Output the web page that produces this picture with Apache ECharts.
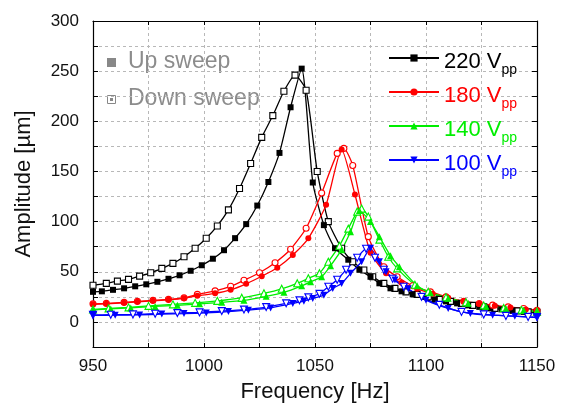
<!doctype html>
<html lang="en">
<head>
    <meta charset="UTF-8">
    <title>Amplitude vs Frequency</title>
    <script src="https://cdn.jsdelivr.net/npm/echarts@6/dist/echarts.min.js"></script>
    <style>
        html, body { margin: 0; padding: 0; background: #fff; }
        #chart { width: 570px; height: 408px; }
    </style>
</head>
<body>
<div id="chart"></div>
<script>
    // 220 Vpp
    var fBlkUp = [950, 954, 959, 964, 969, 974, 979, 984, 989, 994, 999, 1004, 1009, 1014, 1019, 1024, 1029, 1034, 1039, 1044, 1049, 1054, 1059, 1065, 1070, 1075, 1079, 1084, 1089, 1094, 1099, 1104, 1109, 1114, 1119, 1124, 1129, 1134, 1139, 1144, 1150];
    var aBlkUp = [30, 30.5, 32, 33.5, 35.5, 37.5, 40, 43, 46.5, 51, 56.5, 63, 71.5, 83.5, 97.5, 116, 139.5, 168.5, 214, 252.5, 139, 96.5, 73.5, 62, 52, 45, 38.5, 33.5, 30.5, 27.5, 25, 22.5, 20.5, 18.5, 16.5, 15, 13.5, 12.5, 11, 10, 9];
    var fBlkDn = [950, 956, 961, 966, 971, 976, 981, 986, 991, 996, 1001, 1006, 1011, 1016, 1021, 1026, 1031, 1036, 1041, 1046, 1051, 1056, 1062, 1067, 1072, 1076, 1081, 1086, 1091, 1096, 1101, 1106, 1111, 1116, 1121, 1126, 1131, 1136, 1141, 1146, 1150];
    var aBlkDn = [36.5, 38.4, 40.7, 42.4, 45.7, 49, 53.4, 58.4, 65, 73.4, 83.4, 95.7, 111.7, 133, 158, 184, 205.7, 230, 246, 231, 150, 100, 73.4, 60, 51.7, 45, 38.4, 33.4, 30, 27.5, 25, 22.5, 20.5, 18.5, 16.5, 15, 13.5, 12.5, 11, 10, 9.5];

    // 180 Vpp
    var fRedUp = [950, 956, 964, 970, 977, 984, 991, 997, 1005, 1012, 1019, 1026, 1033, 1040, 1047, 1055, 1062, 1068, 1075, 1082, 1089, 1096, 1103, 1110, 1117, 1124, 1131, 1138, 1145, 1150];
    var aRedUp = [17.5, 18, 19, 20, 21, 22, 23.5, 26, 28.5, 32, 38, 45.5, 54, 66.7, 83.4, 116.7, 172, 127, 69, 48.4, 39, 33, 28, 24, 20.5, 18, 16, 14.5, 12.5, 11.5];
    var fRedDn = [950, 956, 964, 970, 977, 984, 991, 997, 1005, 1012, 1018, 1025, 1032, 1039, 1046, 1053, 1060, 1063, 1067, 1074, 1081, 1087, 1094, 1102, 1109, 1117, 1124, 1130, 1137, 1144, 1150];
    var aRedDn = [18, 18.5, 19.5, 20.5, 21.5, 22.5, 24, 27.5, 31, 35.5, 41.5, 49, 59, 72.5, 93.4, 128.5, 168, 173, 156, 85, 55, 45, 36, 30, 25, 20.5, 18.4, 16.7, 15, 13.4, 11.7];

    // 140 Vpp
    var fGrnUp = [950, 958, 967, 978, 988, 998, 1008, 1018, 1028, 1036, 1044, 1048, 1053, 1057, 1062, 1066, 1070, 1075, 1079, 1084, 1088, 1096, 1102, 1110, 1119, 1127, 1136, 1144, 1150];
    var aGrnUp = [12, 13, 14, 15.5, 16.5, 18, 19.5, 21.5, 25.5, 29.5, 36, 40, 45, 56, 72, 90, 111, 100, 85, 66, 55, 36, 29, 23.5, 18.5, 15.7, 13.4, 11.7, 10];
    var fGrnDn = [950, 957, 966, 975, 986, 996, 1006, 1017, 1027, 1035, 1042, 1047, 1052, 1056, 1061, 1065, 1069, 1071, 1074, 1079, 1083, 1087, 1095, 1101, 1109, 1118, 1126, 1135, 1143, 1150];
    var aGrnDn = [12.5, 13.5, 14.5, 16, 17.5, 19, 21, 24, 28.5, 33, 38.5, 43.5, 48.5, 60, 76, 93, 110, 113, 105, 82, 65, 53.4, 37, 30, 24.5, 19.5, 16.5, 14, 12, 10.5];

    // 100 Vpp
    var fBluUp = [950, 960, 971, 981, 991, 1001, 1011, 1020, 1030, 1040, 1045, 1049, 1054, 1058, 1062, 1066, 1071, 1075, 1079, 1082, 1086, 1092, 1100, 1110, 1120, 1130, 1140, 1150];
    var aBluUp = [6.5, 6.7, 7, 7.8, 8.3, 9, 10.3, 11.7, 14, 18.4, 20.7, 23.4, 26.7, 33.4, 38.4, 48.4, 60, 73.4, 60, 50, 41.7, 33, 21.7, 13.4, 8.4, 6.7, 5.7, 4.4];
    var fBluDn = [950, 958, 968, 978, 988, 998, 1008, 1018, 1028, 1037, 1043, 1047, 1052, 1056, 1060, 1064, 1069, 1073, 1077, 1081, 1085, 1090, 1098, 1106, 1116, 1126, 1136, 1146, 1150];
    var aBluDn = [7, 7.2, 7.5, 8.2, 8.8, 9.5, 10.8, 12.3, 14.8, 18.5, 21.5, 24.5, 28, 35, 42, 52, 64, 73, 64, 52, 43, 35, 25, 17, 10, 7.5, 6, 5, 4.8];

    var voltNames = ['220', '180', '140', '100'];
    var voltColors = ['#000000', '#ff0000', '#00ee00', '#0000ff'];
    var xTicks = [950, 975, 1000, 1025, 1050, 1075, 1100, 1125, 1150];
    var yLabels = [0, 50, 100, 150, 200, 250, 300];
    var yTicks = [0, 25, 50, 75, 100, 125, 150, 175, 200, 225, 250, 275, 300];

    function zip(f, a) {
        var out = [];
        for (var i = 0; i < f.length; i++) out.push([f[i], a[i]]);
        return out;
    }

    function sweep(name, f, a, color, symbol, rotate, hollow) {
        return {
            name: name,
            type: 'line',
            data: zip(f, a),
            symbol: symbol,
            symbolSize: symbol === 'triangle' ? 7 : 6,
            symbolRotate: rotate,
            smooth: 0.2,
            lineStyle: {color: color, width: 1.3},
            itemStyle: hollow ? {color: '#fff', borderColor: color, borderWidth: 1.1} : {color: color},
            emphasis: {disabled: true}
        };
    }

    var series = [
        sweep('220 down', fBlkDn, aBlkDn, voltColors[0], 'rect', 0, true),
        sweep('220', fBlkUp, aBlkUp, voltColors[0], 'rect', 0, false),
        sweep('180 down', fRedDn, aRedDn, voltColors[1], 'circle', 0, true),
        sweep('180', fRedUp, aRedUp, voltColors[1], 'circle', 0, false),
        sweep('140 down', fGrnDn, aGrnDn, voltColors[2], 'triangle', 0, true),
        sweep('140', fGrnUp, aGrnUp, voltColors[2], 'triangle', 0, false),
        sweep('100 down', fBluDn, aBluDn, voltColors[3], 'triangle', 180, true),
        sweep('100', fBluUp, aBluUp, voltColors[3], 'triangle', 180, false)
    ];

    // rich styles for "xxx V" + subscript "pp"
    var rich = {};
    voltColors.forEach(function (c, i) {
        rich['v' + i] = {color: c, fontSize: 22, lineHeight: 22, padding: [4, 0, 0, 0], verticalAlign: 'top'};
        rich['s' + i] = {color: c, fontSize: 14, lineHeight: 14, padding: [16, 0, 0, 0], verticalAlign: 'top'};
    });

    var font = 'Liberation Sans, Arial, sans-serif';
    var gridDash = {show: true, lineStyle: {color: '#b8b8b8', type: [3, 3], width: 1}};

    var chart = echarts.init(document.getElementById('chart'), null, {renderer: 'canvas'});
    chart.setOption({
        animation: false,
        backgroundColor: '#fff',
        textStyle: {fontFamily: font},
        grid: {left: 93, right: 33, top: 21, bottom: 61},
        legend: {
            data: voltNames,
            orient: 'vertical',
            left: 383,
            top: 42,
            itemWidth: 50,
            itemHeight: 9,
            itemGap: 4,
            formatter: function (name) {
                var i = voltNames.indexOf(name);
                return '{v' + i + '|' + name + ' V}{s' + i + '|pp}';
            },
            textStyle: {fontFamily: font, rich: rich}
        },
        graphic: [
            {type: 'rect', left: 107, top: 58, shape: {width: 9, height: 9}, style: {fill: '#888'}},
            {type: 'text', left: 128, top: 50, style: {text: 'Up sweep', fill: '#8c8c8c', font: '23px ' + font}},
            {type: 'rect', left: 107, top: 95, shape: {width: 8, height: 8}, style: {fill: '#fff', stroke: '#888', lineWidth: 1}},
            {type: 'rect', left: 110, top: 98, shape: {width: 3, height: 3}, style: {fill: '#888'}},
            {type: 'text', left: 128, top: 87, style: {text: 'Down sweep', fill: '#8c8c8c', font: '23px ' + font}}
        ],
        xAxis: [{
            type: 'value',
            min: 950,
            max: 1150,
            interval: 50,
            name: 'Frequency [Hz]',
            nameLocation: 'middle',
            nameGap: 34,
            nameTextStyle: {fontSize: 22, color: '#111', fontFamily: font},
            axisLine: {onZero: false, lineStyle: {color: '#000', width: 1.2}},
            axisTick: {inside: true, length: 4, customValues: xTicks, lineStyle: {color: '#000'}},
            axisLabel: {fontSize: 17, color: '#111', margin: 11, fontFamily: font, formatter: function (v) { return String(v); }},
            splitLine: gridDash
        }, {
            type: 'value',
            position: 'top',
            min: 950,
            max: 1150,
            interval: 50,
            axisLine: {onZero: false, lineStyle: {color: '#000', width: 1.2}},
            axisTick: {inside: true, length: 4, customValues: xTicks, lineStyle: {color: '#000'}},
            axisLabel: {show: false},
            splitLine: {show: false}
        }],
        yAxis: [{
            type: 'value',
            min: -25,
            max: 300,
            splitNumber: 6,
            name: 'Amplitude [\u00b5m]',
            nameLocation: 'middle',
            nameGap: 58,
            nameTextStyle: {fontSize: 22, color: '#111', fontFamily: font},
            axisLine: {onZero: false, lineStyle: {color: '#000', width: 1.2}},
            axisTick: {inside: true, length: 5, customValues: yTicks, lineStyle: {color: '#000'}},
            axisLabel: {fontSize: 17, color: '#111', margin: 14, customValues: yLabels, fontFamily: font},
            splitLine: gridDash
        }, {
            type: 'value',
            position: 'right',
            min: -25,
            max: 300,
            axisLine: {onZero: false, lineStyle: {color: '#000', width: 1.2}},
            axisTick: {inside: true, length: 5, customValues: yTicks, lineStyle: {color: '#000'}},
            axisLabel: {show: false},
            splitLine: {show: false}
        }],
        series: series
    });
</script>
</body>
</html>
